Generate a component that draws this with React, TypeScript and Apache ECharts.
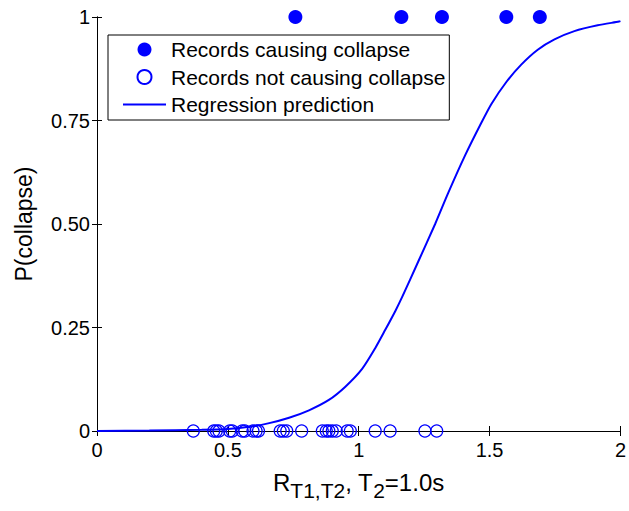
import React, { useEffect, useRef } from "react";
import * as echarts from "echarts";

const collapseX = [0.758, 1.163, 1.318, 1.564, 1.692];
const noCollapseX = [
  0.368, 0.446, 0.456, 0.466, 0.507, 0.517, 0.555, 0.565, 0.596, 0.608, 0.617,
  0.7, 0.712, 0.725, 0.782, 0.861, 0.876, 0.886, 0.899, 0.914, 0.956, 0.968,
  1.063, 1.12, 1.253, 1.298,
];
const curveX = [
  0, 0.2, 0.4, 0.5, 0.582, 0.658, 0.734, 0.81, 0.886, 0.949, 1.013, 1.063,
  1.102, 1.14, 1.167, 1.228, 1.292, 1.342, 1.406, 1.469, 1.507, 1.564, 1.621,
  1.684, 1.748, 1.824, 1.913, 1.995, 2,
];
const curveY = [
  0, 0.001, 0.003, 0.005, 0.01, 0.019, 0.032, 0.05, 0.075, 0.107, 0.15,
  0.2, 0.245, 0.29, 0.325, 0.41, 0.5, 0.575, 0.665, 0.745, 0.79, 0.843,
  0.885, 0.921, 0.946, 0.966, 0.98, 0.989, 0.99,
];
const yTickValues = [0, 0.25, 0.5, 0.75, 1];
const yTickLabels = ["0", "0.25", "0.50", "0.75", "1"];

const BLUE = "#0000ff";
const FONT = "Liberation Sans, Arial, sans-serif";

export default function App() {
  const ref = useRef<HTMLDivElement>(null);
  useEffect(() => {
    document.body.style.margin = "0";
    if (!ref.current) return;
    const chart = echarts.init(ref.current, undefined, { renderer: "svg" });
    const axisLine = { show: true, lineStyle: { color: "#000", width: 1 } };
    const axisTick = { show: true, inside: true, length: 5, lineStyle: { color: "#000" } };
    chart.setOption({
      animation: false,
      backgroundColor: "#fff",
      textStyle: { fontFamily: FONT },
      grid: { left: 97, right: 6, top: 17, bottom: 80, containLabel: false },
      title: {
        text: "{r|R}{sub|T1,T2}{r|, T}{sub|2}{r|=1.0s}",
        left: 273,
        top: 474,
        padding: 0,
        textStyle: {
          fontSize: 24,
          color: "#000",
          fontWeight: "normal",
          fontFamily: FONT,
          rich: {
            r: { fontSize: 24, lineHeight: 24, padding: [0, 0, 8, 0], color: "#000", fontFamily: FONT },
            sub: { fontSize: 21, lineHeight: 24, padding: [8, 0, 0, 0], color: "#000", fontFamily: FONT },
          },
        },
      },
      legend: {
        show: true,
        orient: "vertical",
        left: 108,
        top: 35,
        padding: [4, 4, 5, 15],
        itemWidth: 43,
        itemHeight: 14,
        itemGap: 6.5,
        symbolKeepAspect: true,
        borderColor: "#000",
        borderWidth: 1,
        backgroundColor: "#fff",
        textStyle: { fontSize: 21, lineHeight: 20, color: "#000", fontFamily: FONT },
        data: [
          { name: "Records causing collapse" },
          { name: "Records not causing collapse" },
          { name: "Regression prediction", icon: "path://M0,0 H43 V2 H0 Z", itemStyle: { color: BLUE } },
        ],
      },
      xAxis: [
        {
          type: "value",
          min: 0,
          max: 2,
          interval: 0.5,
          position: "bottom",
          axisLine,
          axisTick,
          splitLine: { show: false },
          axisLabel: { fontSize: 20, color: "#000", margin: 9, fontFamily: FONT },
        },
        {
          type: "value",
          min: 0,
          max: 2,
          interval: 0.5,
          position: "top",
          axisLine,
          axisTick,
          splitLine: { show: false },
          axisLabel: { show: false },
        },
      ],
      yAxis: [
        {
          type: "value",
          min: 0,
          max: 1,
          interval: 0.25,
          position: "left",
          axisLine,
          axisTick,
          splitLine: { show: false },
          axisLabel: {
            fontSize: 20,
            color: "#000",
            margin: 7,
            fontFamily: FONT,
            formatter: (v: number) => {
              const i = yTickValues.findIndex((t) => Math.abs(t - v) < 1e-9);
              return i >= 0 ? yTickLabels[i] : "";
            },
          },
          name: "P(collapse)",
          nameLocation: "middle",
          nameGap: 62,
          nameTextStyle: { fontSize: 23, color: "#000", fontFamily: FONT },
        },
        {
          type: "value",
          min: 0,
          max: 1,
          interval: 0.25,
          position: "right",
          axisLine,
          axisTick,
          splitLine: { show: false },
          axisLabel: { show: false },
        },
      ],
      series: [
        {
          name: "Regression prediction",
          type: "line",
          xAxisIndex: 0,
          yAxisIndex: 0,
          symbol: "none",
          smooth: 0.25,
          lineStyle: { color: BLUE, width: 2 },
          itemStyle: { color: BLUE },
          data: curveX.map((x, i) => [x, curveY[i]]),
          z: 2,
        },
        {
          name: "Records not causing collapse",
          type: "scatter",
          xAxisIndex: 0,
          yAxisIndex: 0,
          symbol: "circle",
          symbolSize: 12,
          clip: false,
          itemStyle: { color: "rgba(0,0,0,0)", borderColor: BLUE, borderWidth: 1.2, opacity: 1 },
          data: noCollapseX.map((x) => [x, 0]),
          z: 3,
        },
        {
          name: "Records causing collapse",
          type: "scatter",
          xAxisIndex: 0,
          yAxisIndex: 0,
          symbol: "circle",
          symbolSize: 14,
          clip: false,
          itemStyle: { color: BLUE, opacity: 1 },
          data: collapseX.map((x) => [x, 1]),
          z: 4,
        },
      ],
    });
    return () => chart.dispose();
  }, []);
  return <div ref={ref} style={{ width: 629, height: 511 }} />;
}
